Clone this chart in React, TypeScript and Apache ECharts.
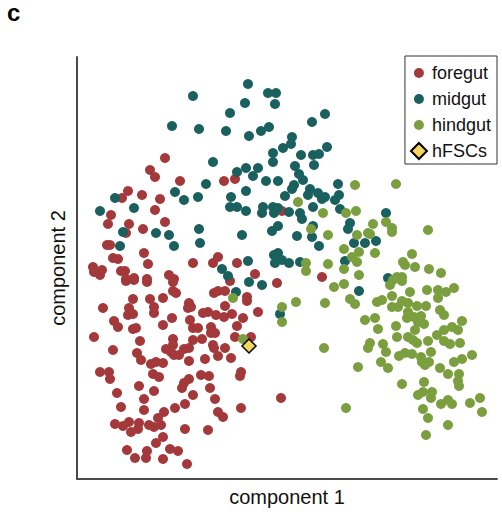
import React, { useEffect, useRef } from "react";
import * as echarts from "echarts";

const seriesNames = ["foregut", "midgut", "hindgut", "hFSCs"];

const foregut: number[][] = [
  [88,321],[73,309],[78,302],[103,298],[147,298],[158,300],[51,288],[45,281],[65,284],[83,280],
  [78,269],[34,264],[31,255],[52,255],[49,246],[66,250],[88,257],[30,234],[33,234],[67,226],
  [36,221],[41,220],[71,215],[116,216],[136,216],[141,222],[16,212],[17,207],[25,209],[23,204],
  [44,208],[48,208],[57,201],[49,200],[70,200],[92,204],[97,200],[205,268],[160,216],[178,205],
  [245,202],
  [49,198],[57,199],[70,197],[96,197],[96,188],[99,186],[56,180],[73,180],[86,181],[137,186],
  [141,188],[26,171],[52,171],[77,172],[77,166],[51,164],[56,165],[112,176],[111,171],[114,172],
  [126,166],[131,167],[139,164],[37,158],[41,152],[56,150],[59,151],[95,161],[86,154],[113,159],
  [116,151],[121,151],[134,152],[134,146],[138,146],[17,142],[63,138],[96,140],[96,134],[116,139],
  [125,140],[36,129],[60,126],[64,119],[89,130],[94,127],[97,124],[102,124],[107,130],[112,131],
  [136,134],[137,131],[74,115],[79,117],[86,116],[112,118],[128,120],[141,123],[23,107],[32,107],
  [33,100],[76,105],[82,102],[62,93],[77,88],[105,91],[112,100],[107,96],[124,104],[132,103],
  [133,91],[116,84],[40,86],[67,80],[44,72],[67,69],[98,71],[108,75],[138,80],[141,67],
  [87,67],[81,61],[38,55],[46,53],[52,57],[54,47],[61,50],[62,56],[72,54],[77,52],
  [84,54],[86,42],[108,50],[131,49],[79,36],[50,29],[70,28],[58,21],[69,21],[86,20],
  [93,30],[101,28],[110,15],
  [153,198],[200,196],[148,188],[170,182],[170,178],[148,173],[181,167],[155,165],[147,162],[166,161],
  [160,153],[158,142],[174,142],[148,131],[154,121],[164,107],[163,103],[204,81],[164,71],[146,62]
];

const midgut: number[][] = [
  [116,383],[95,353],[122,350],[136,317],[129,295],[98,287],[107,279],[121,282],[38,281],[57,271],
  [23,268],[46,247],[79,246],[92,244],[122,250],[123,236],[97,233],[43,233],
  [171,395],[191,386],[199,386],[168,376],[198,375],[153,366],[248,365],[235,357],[149,348],[172,343],
  [184,348],[192,352],[215,342],[206,331],[214,335],[250,332],[196,326],[196,317],[224,324],[236,324],
  [242,325],[237,314],[160,307],[169,311],[181,311],[176,303],[218,313],[222,305],[226,299],[189,298],
  [201,298],[169,288],[217,294],[215,290],[208,283],[233,290],[231,284],[241,286],[248,282],[245,280],
  [261,295],[262,284],[258,279],[154,282],[153,272],[160,272],[169,268],[186,272],[185,266],[196,272],
  [197,266],[201,271],[212,267],[223,266],[225,260],[236,272],[263,270],[201,253],[195,248],[165,244],
  [220,243],[236,253],[235,242],[242,233],[273,256],[271,250],[277,236],[197,224],[201,226],[198,216],
  [205,219],[212,216],[171,218],[145,210],[151,203],[223,217],[268,218],
  [309,266],[288,236],[299,238],[311,201],
  [172,197],[185,194],[159,187],[203,165],[282,188]
];

const hindgut: number[][] = [
  [278,294],[221,277],[246,266],[269,266],[279,268],[234,250],[251,244],[267,230],[275,222],[282,227],
  [280,217],[229,216],[229,208],[251,215],[267,210],[282,204],
  [319,295],[309,257],[296,255],[315,251],[315,247],[351,249],[291,246],[293,245],[280,244],[298,226],
  [335,225],[326,217],[328,214],[338,212],[352,210],[364,206],[320,202],[325,202],
  [156,181],[219,177],[205,172],[205,157],[248,176],[257,192],[267,195],[273,180],[278,175],[166,140],
  [247,131],[281,112],[269,71],
  [316,199],[325,198],[313,194],[300,177],[305,179],[315,183],[333,187],[350,189],[361,189],[369,187],
  [361,181],[377,191],[315,172],[321,172],[325,178],[331,176],[340,173],[349,173],[331,167],[330,161],
  [337,162],[344,163],[341,157],[347,155],[363,169],[367,164],[288,159],[298,161],[385,158],[301,150],
  [319,153],[338,149],[320,142],[331,142],[336,139],[340,136],[351,138],[360,144],[367,149],[375,152],
  [381,149],[367,138],[373,135],[383,136],[293,136],[291,131],[306,135],[309,127],[322,123],[328,126],
  [335,125],[344,122],[345,117],[348,114],[354,127],[352,117],[363,111],[377,117],[385,120],[395,124],
  [304,117],[311,111],[371,105],[382,105],[381,98],[382,93],[325,95],[347,97],[341,84],[346,87],
  [355,87],[354,81],[364,75],[371,79],[375,75],[393,76],[403,81],[405,67],[346,70],[351,61],
  [371,54],[349,44]
];

const hFSCs: number[][] = [[172,133]];

const colors = ["#A3393B", "#19605F", "#7B9F3F", "#F5D55E"];
const FONT = "'Liberation Sans', Arial, Helvetica, sans-serif";
const circleIcon = "path://M0,0M16,16M13,8A5,5,0,1,1,3,8A5,5,0,1,1,13,8Z";

export default function App() {
  const ref = useRef<HTMLDivElement>(null);
  useEffect(() => {
    if (!ref.current) return;
    const chart = echarts.init(ref.current, null, { renderer: "svg" });
    const dataSets = [foregut, midgut, hindgut, hFSCs];
    chart.setOption({
      animation: false,
      title: {
        text: "c",
        left: 7,
        top: 0,
        padding: 0,
        textStyle: { fontSize: 24, lineHeight: 24, fontWeight: "bold", color: "#000", fontFamily: FONT },
      },
      grid: { left: 77, right: 5, top: 57, bottom: 49 },
      xAxis: {
        type: "value",
        min: 0,
        max: 420,
        name: "component 1",
        nameLocation: "middle",
        nameGap: 8,
        nameTextStyle: { fontSize: 20, color: "#111", fontFamily: FONT },
        axisLine: { show: true, onZero: false, lineStyle: { color: "#4a4a4a", width: 2 } },
        axisTick: { show: false },
        axisLabel: { show: false },
        splitLine: { show: false },
      },
      yAxis: {
        type: "value",
        min: 0,
        max: 422,
        name: "component 2",
        nameLocation: "middle",
        nameGap: 9,
        nameTextStyle: { fontSize: 20, color: "#111", fontFamily: FONT },
        axisLine: { show: true, onZero: false, lineStyle: { color: "#4a4a4a", width: 2 } },
        axisTick: { show: false },
        axisLabel: { show: false },
        splitLine: { show: false },
      },
      legend: {
        orient: "vertical",
        right: 5,
        top: 56,
        padding: [8, 6, 4, 5],
        itemGap: 8,
        itemWidth: 16,
        itemHeight: 16,
        borderColor: "#333",
        borderWidth: 1,
        borderRadius: 0,
        backgroundColor: "#fff",
        textStyle: { fontSize: 18, color: "#111", fontFamily: FONT },
        data: [
          { name: "foregut", icon: circleIcon },
          { name: "midgut", icon: circleIcon },
          { name: "hindgut", icon: circleIcon },
          { name: "hFSCs", icon: "diamond" },
        ],
      },
      series: seriesNames.map((name, i) => ({
        name,
        type: "scatter",
        data: dataSets[i],
        symbol: i === 3 ? "diamond" : "circle",
        symbolSize: i === 3 ? 14 : 10,
        itemStyle:
          i === 3
            ? { color: colors[i], borderColor: "#000", borderWidth: 1.5, opacity: 1 }
            : { color: colors[i], opacity: 1 },
        emphasis: { disabled: true },
        z: 2 + i,
      })),
    });
    return () => chart.dispose();
  }, []);
  return (
    <div
      ref={ref}
      style={{ position: "absolute", left: 0, top: 0, width: 502, height: 528 }}
    />
  );
}
